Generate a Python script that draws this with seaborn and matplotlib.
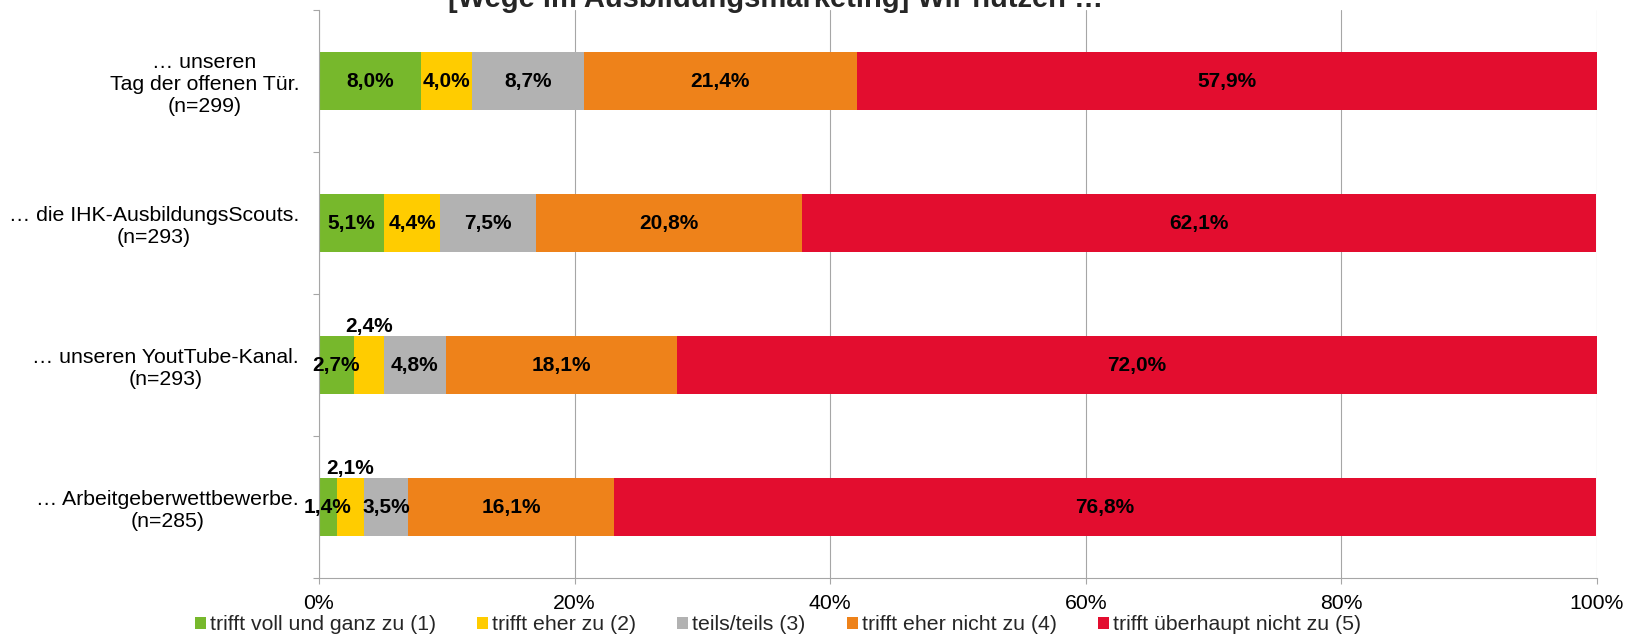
import pandas as pd
import seaborn as sns
import matplotlib.pyplot as plt
from matplotlib.patches import Patch
from matplotlib.ticker import FixedLocator, FuncFormatter

# --- Daten ---
title = "[Wege im Ausbildungsmarketing] Wir nutzen …"
items = ["… unseren\nTag der offenen Tür.\n(n=299)",
         "… die IHK-AusbildungsScouts.\n(n=293)",
         "… unseren YoutTube-Kanal.\n(n=293)",
         "… Arbeitgeberwettbewerbe.\n(n=285)"]
answers = ["trifft voll und ganz zu (1)", "trifft eher zu (2)", "teils/teils (3)",
           "trifft eher nicht zu (4)", "trifft überhaupt nicht zu (5)"]
voll = [8.0, 5.1, 2.7, 1.4]
eher = [4.0, 4.4, 2.4, 2.1]
teils = [8.7, 7.5, 4.8, 3.5]
eher_nicht = [21.4, 20.8, 18.1, 16.1]
gar_nicht = [57.9, 62.1, 72.0, 76.8]
x_ticks = [0, 20, 40, 60, 80, 100]

colors = ["#77b82c", "#ffcc00", "#b2b2b2", "#ee821a", "#e30d2f"]
grid_col = "#a6a6a6"

series = [voll, eher, teils, eher_nicht, gar_nicht]
df = pd.DataFrame({a: s for a, s in zip(answers, series)}, index=items)
cum = df.cumsum(axis=1)

sns.set_style("white")
plt.rcParams['font.family'] = ['Liberation Sans', 'DejaVu Sans']

fig = plt.figure(figsize=(16.27, 6.35), dpi=100)
ax = fig.add_axes([319 / 1627, 1 - 578 / 635, 1278 / 1627, 568 / 635])

# gestapelte Balken: von hinten (Summe) nach vorne zeichnen
for ans, col in reversed(list(zip(answers, colors))):
    d = pd.DataFrame({'item': items, 'wert': cum[ans].values})
    sns.barplot(data=d, x='wert', y='item', orient='h', color=col, saturation=1,
                width=0.41, errorbar=None, linewidth=0, ax=ax)

# Datenbeschriftungen
lifted = {(2, 1), (3, 1)}
for i, it in enumerate(items):
    for j, ans in enumerate(answers):
        val = df.loc[it, ans]
        xc = cum.loc[it, ans] - val / 2
        yc = i - 0.27 if (i, j) in lifted else i
        ax.text(xc, yc, f"{val:.1f}%".replace('.', ','), ha='center', va='center',
                fontsize=15, fontweight='bold', color='black')

ax.set_xlim(0, 100)
ax.set_ylim(3.5, -0.5)
ax.xaxis.set_major_locator(FixedLocator(x_ticks))
ax.xaxis.set_major_formatter(FuncFormatter(lambda v, p: f"{v:.0f}%"))
ax.yaxis.set_minor_locator(FixedLocator([-0.5, 0.5, 1.5, 2.5, 3.5]))
ax.set_xlabel('')
ax.set_ylabel('')
ax.grid(axis='x', color=grid_col, lw=0.8)
ax.set_axisbelow(True)
for s in ['top', 'right']:
    ax.spines[s].set_visible(False)
for s in ['left', 'bottom']:
    ax.spines[s].set_color(grid_col)
    ax.spines[s].set_linewidth(0.8)

ax.tick_params(axis='x', length=4.3, width=0.8, color=grid_col, pad=7,
               labelsize=15.3, labelcolor='black', bottom=True)
ax.tick_params(axis='y', which='major', length=0, pad=14.4, labelsize=15.3,
               labelcolor='black')
ax.tick_params(axis='y', which='minor', length=4.3, width=0.8, color=grid_col, left=True)
for lab in ax.get_yticklabels():
    lab.set_multialignment('center')

# Titel (oben angeschnitten wie im Original)
fig.text(776 / 1627, 1 - 7 / 635, title, ha='center', va='baseline',
         fontsize=21, fontweight='bold')

handles = [Patch(facecolor=c, edgecolor='none') for c in colors]
fig.legend(handles, answers, loc='center', bbox_to_anchor=(778 / 1627, 1 - 625 / 635),
           ncol=5, frameon=False, fontsize=15.3, handlelength=0.52, handleheight=0.52,
           handletextpad=0.19, columnspacing=1.93, borderpad=0, borderaxespad=0)

fig.savefig('out.png', dpi=100)
